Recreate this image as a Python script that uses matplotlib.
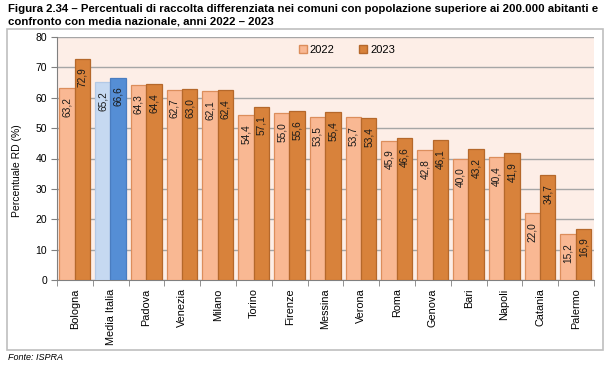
import numpy as np
import matplotlib.pyplot as plt
from matplotlib.patches import Rectangle, Patch

cities = ["Bologna", "Media Italia", "Padova", "Venezia", "Milano", "Torino",
          "Firenze", "Messina", "Verona", "Roma", "Genova", "Bari", "Napoli",
          "Catania", "Palermo"]
rd_2022 = [63.2, 65.2, 64.3, 62.7, 62.1, 54.4, 55.0, 53.5, 53.7, 45.9, 42.8,
           40.0, 40.4, 22.0, 15.2]
rd_2023 = [72.9, 66.6, 64.4, 63.0, 62.4, 57.1, 55.6, 55.4, 53.4, 46.6, 46.1,
           43.2, 41.9, 34.7, 16.9]

plt.rcParams['font.family'] = ['Liberation Sans', 'DejaVu Sans']

c22, e22 = "#F9B893", "#DC8E5C"
c23, e23 = "#D8823B", "#B5682B"
cit22, eit22 = "#C6D9F1", "#B3C9E6"
cit23, eit23 = "#558ED5", "#4A7DC0"

fig = plt.figure(figsize=(6.13, 3.74), dpi=100)
ax = fig.add_axes([57/613, 1-280/374, (594-57)/613, (280-37)/374])

# outer frame of the chart
fig.patches.append(Rectangle((7/613, 1-350/374), (603-7)/613, (350-29)/374,
                             transform=fig.transFigure, fill=False,
                             edgecolor="#BFBFBF", lw=1.2, zorder=0))

ax.set_facecolor("#FDEEE7")
x = np.arange(len(cities))
w = 0.43
cols22 = [cit22 if c == "Media Italia" else c22 for c in cities]
edg22 = [eit22 if c == "Media Italia" else e22 for c in cities]
cols23 = [cit23 if c == "Media Italia" else c23 for c in cities]
edg23 = [eit23 if c == "Media Italia" else e23 for c in cities]
b1 = ax.bar(x - w/2 - 0.01, rd_2022, w, color=cols22, edgecolor=edg22, lw=0.9, zorder=3)
b2 = ax.bar(x + w/2 - 0.01, rd_2023, w, color=cols23, edgecolor=edg23, lw=0.9, zorder=3)

for bars, vals in ((b1, rd_2022), (b2, rd_2023)):
    for b, v in zip(bars, vals):
        ax.annotate(f"{v:.1f}".replace(".", ","),
                    (b.get_x() + b.get_width()/2, v), xytext=(0, -6.5),
                    textcoords="offset points", rotation=90, ha="center",
                    va="top", fontsize=7.3, color="#1a1a1a", zorder=4)

ax.set_ylim(0, 80)
ax.set_xlim(-0.5, len(cities) - 0.5)
ax.set_yticks(range(0, 81, 10))
ax.yaxis.grid(True, color="#A6A6A6", lw=1, zorder=0)
ax.set_axisbelow(True)
ax.tick_params(axis="y", labelsize=7.5, length=4, color="#808080", pad=3)
ax.set_xticks(x)
ax.set_xticklabels(cities, rotation=90, fontsize=7.8)
ax.tick_params(axis="x", length=0, pad=6)
ax.set_xticks(np.arange(-0.5, len(cities)), minor=True)
ax.tick_params(axis="x", which="minor", length=4, color="#808080")
for s in ("top", "right"):
    ax.spines[s].set_visible(False)
for s in ("left", "bottom"):
    ax.spines[s].set_color("#808080")
ax.set_ylabel("Percentuale RD (%)", fontsize=7.5)
ax.yaxis.set_label_coords(-0.065, 0.45)

handles = [Patch(facecolor=c22, edgecolor=e22, label="2022"),
           Patch(facecolor=c23, edgecolor=e23, label="2023")]
ax.legend(handles=handles, loc="upper center", bbox_to_anchor=(0.54, 1.01),
          ncol=2, frameon=False, fontsize=8, handlelength=0.7,
          handleheight=0.7, handletextpad=0.3, columnspacing=2.2)

fig.text(8/613, 1-4/374,
         "Figura 2.34 – Percentuali di raccolta differenziata nei comuni con popolazione superiore ai 200.000 abitanti e\n"
         "confronto con media nazionale, anni 2022 – 2023",
         ha="left", va="top", fontsize=8.2, fontweight="bold", linespacing=1.35)
fig.text(8/613, 1-358/374, "Fonte: ISPRA", ha="left", va="center",
         fontsize=6.5, style="italic")

fig.savefig("out.png", dpi=100)
